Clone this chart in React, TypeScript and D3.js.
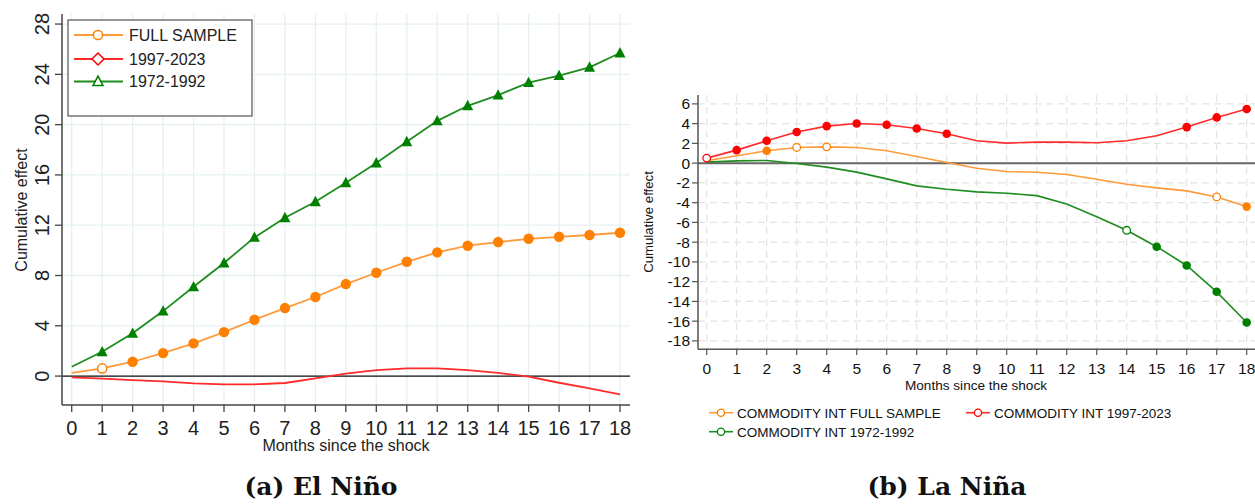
import React from "react";
import * as d3 from "d3";

const months = [0, 1, 2, 3, 4, 5, 6, 7, 8, 9, 10, 11, 12, 13, 14, 15, 16, 17, 18];

// El Niño (panel a)
const elNinoFull = [0.26, 0.61, 1.14, 1.83, 2.6, 3.5, 4.48, 5.41, 6.29, 7.32, 8.22, 9.09, 9.84, 10.37, 10.66, 10.92, 11.08, 11.22, 11.4];
const elNino9723 = [-0.1, -0.2, -0.32, -0.42, -0.58, -0.66, -0.66, -0.55, -0.18, 0.2, 0.47, 0.62, 0.62, 0.47, 0.26, -0.05, -0.53, -0.98, -1.46];
const elNino7292 = [0.74, 1.93, 3.4, 5.17, 7.1, 9.0, 11.03, 12.6, 13.87, 15.38, 16.95, 18.64, 20.3, 21.5, 22.35, 23.34, 23.9, 24.56, 25.7];
// marker kinds: n = none, o = open, f = filled
const elNinoFullMk = "nofffffffffffffffff";
const elNino7292Mk = "nffffffffffffffffff";
const elNinoYTicks = [0, 4, 8, 12, 16, 20, 24, 28];
const elNinoLegend = ["FULL SAMPLE", "1997-2023", "1972-1992"];

// La Niña (panel b)
const laNinaFull = [0.25, 0.74, 1.25, 1.59, 1.65, 1.59, 1.25, 0.68, 0.06, -0.51, -0.85, -0.92, -1.15, -1.63, -2.13, -2.5, -2.81, -3.42, -4.4];
const laNina9723 = [0.51, 1.32, 2.26, 3.15, 3.75, 4.02, 3.89, 3.51, 2.97, 2.26, 2.03, 2.13, 2.13, 2.06, 2.26, 2.77, 3.65, 4.63, 5.48];
const laNina7292 = [0.1, 0.23, 0.27, -0.03, -0.4, -0.91, -1.59, -2.3, -2.65, -2.91, -3.05, -3.29, -4.13, -5.42, -6.8, -8.46, -10.36, -13.03, -16.14];
const laNinaFullMk = "nnfoonnnnnnnnnnnnof";
const laNina9723Mk = "offffffffnnnnnnnfff";
const laNina7292Mk = "nnnnnnnnnnnnnnoffff";
const laNinaYTicks = [6, 4, 2, 0, -2, -4, -6, -8, -10, -12, -14, -16, -18];
const laNinaLegend = ["COMMODITY INT FULL SAMPLE", "COMMODITY INT 1997-2023", "COMMODITY INT 1972-1992"];

const FONT = "'Liberation Sans', Arial, Helvetica, sans-serif";

const C_OR_LINE = "#ff9a3a";
const C_OR = "#ff8000";
const C_RED_LINE = "#ff2a2a";
const C_RED = "#ff0000";
const C_GR_LINE = "#1f8c1f";
const C_GR = "#008000";

function tri(cx: number, cy: number, s: number) {
  const h = s * 0.9;
  return `M${cx},${cy - h * 0.6}L${cx + s / 2},${cy + h * 0.45}L${cx - s / 2},${cy + h * 0.45}Z`;
}

function PanelA() {
  const x = d3.scaleLinear().domain([0, 18]).range([71.7, 620]);
  const y = d3.scaleLinear().domain([-2.3, 28.8]).range([405, 14]);
  const line = (vals: number[]) =>
    d3.line<number>().x((_, i) => x(months[i])).y((d) => y(d))(vals) || "";
  const gridC = "#e6eff2";
  return (
    <g>
      {months.map((m) => (
        <line key={"gv" + m} x1={x(m)} x2={x(m)} y1={14} y2={405} stroke={gridC} strokeWidth={1.3} />
      ))}
      {elNinoYTicks.map((t) => (
        <line key={"gh" + t} x1={62} x2={630} y1={y(t)} y2={y(t)} stroke={gridC} strokeWidth={1.3} />
      ))}
      <line x1={62} x2={630} y1={y(0)} y2={y(0)} stroke="#111" strokeWidth={1.3} />
      <path d={line(elNino7292)} fill="none" stroke={C_GR_LINE} strokeWidth={1.8} />
      <path d={line(elNinoFull)} fill="none" stroke={C_OR_LINE} strokeWidth={1.8} />
      <path d={line(elNino9723)} fill="none" stroke={C_RED_LINE} strokeWidth={1.8} />
      {elNino7292.map((v, i) =>
        elNino7292Mk[i] === "f" ? <path key={"gt" + i} d={tri(x(months[i]), y(v), 11)} fill={C_GR} /> : null
      )}
      {elNinoFull.map((v, i) =>
        elNinoFullMk[i] === "f" ? (
          <circle key={"oc" + i} cx={x(months[i])} cy={y(v)} r={5.2} fill={C_OR} />
        ) : elNinoFullMk[i] === "o" ? (
          <circle key={"oc" + i} cx={x(months[i])} cy={y(v)} r={4.6} fill="#fff" stroke={C_OR} strokeWidth={1.5} />
        ) : null
      )}
      <line x1={62} x2={62} y1={14} y2={405} stroke="#444" strokeWidth={1.5} />
      <line x1={62} x2={630} y1={405} y2={405} stroke="#444" strokeWidth={1.5} />
      {elNinoYTicks.map((t) => (
        <g key={"yt" + t}>
          <line x1={55} x2={62} y1={y(t)} y2={y(t)} stroke="#444" strokeWidth={1.3} />
          <text
            x={42}
            y={y(t)}
            transform={`rotate(-90, 42, ${y(t)})`}
            textAnchor="middle"
            dy="0.36em"
            fontSize={20}
            fontFamily={FONT}
            fill="#222"
          >
            {t}
          </text>
        </g>
      ))}
      {months.map((m) => (
        <g key={"xt" + m}>
          <line x1={x(m)} x2={x(m)} y1={405} y2={412} stroke="#444" strokeWidth={1.3} />
          <text x={x(m)} y={435} textAnchor="middle" fontSize={20} fontFamily={FONT} fill="#222">
            {m}
          </text>
        </g>
      ))}
      <text x={346} y={451} textAnchor="middle" fontSize={16} fontFamily={FONT} fill="#222">
        Months since the shock
      </text>
      <text
        x={21}
        y={210}
        transform="rotate(-90, 21, 210)"
        textAnchor="middle"
        dy="0.35em"
        fontSize={16}
        fontFamily={FONT}
        fill="#222"
      >
        Cumulative effect
      </text>
      <rect x={68} y={20} width={184} height={96} fill="#fff" stroke="#333" strokeWidth={1} />
      {[0, 1, 2].map((i) => {
        const cy = [35, 59, 81.5][i];
        const col = [C_OR_LINE, C_RED_LINE, C_GR_LINE][i];
        const mcol = [C_OR, C_RED, C_GR][i];
        return (
          <g key={"lg" + i}>
            <line x1={74} x2={123} y1={cy} y2={cy} stroke={col} strokeWidth={1.8} />
            {i === 0 && <circle cx={98} cy={cy} r={4.6} fill="#fff" stroke={mcol} strokeWidth={1.5} />}
            {i === 1 && (
              <path d={`M98,${cy - 6}L104,${cy}L98,${cy + 6}L92,${cy}Z`} fill="#fff" stroke={mcol} strokeWidth={1.5} />
            )}
            {i === 2 && <path d={tri(98, cy, 10)} fill="#fff" stroke={mcol} strokeWidth={1.5} />}
            <text x={129} y={cy} dy="0.36em" fontSize={16} fontFamily={FONT} fill="#222">
              {elNinoLegend[i]}
            </text>
          </g>
        );
      })}
    </g>
  );
}

function PanelB() {
  const x = d3.scaleLinear().domain([0, 18]).range([706.7, 1246.7]);
  const y = d3.scaleLinear().domain([-18.85, 6.9]).range([349.3, 95]);
  const line = (vals: number[]) =>
    d3.line<number>().x((_, i) => x(months[i])).y((d) => y(d))(vals) || "";
  const gridC = "#e3e3e3";
  const marks = (vals: number[], mk: string, col: string, key: string) =>
    vals.map((v, i) =>
      mk[i] === "f" ? (
        <circle key={key + i} cx={x(months[i])} cy={y(v)} r={4.3} fill={col} />
      ) : mk[i] === "o" ? (
        <circle key={key + i} cx={x(months[i])} cy={y(v)} r={3.8} fill="#fff" stroke={col} strokeWidth={1.3} />
      ) : null
    );
  return (
    <g>
      {months.map((m) => (
        <line key={"gv" + m} x1={x(m)} x2={x(m)} y1={95} y2={349} stroke={gridC} strokeWidth={1.2} strokeDasharray="7,5" />
      ))}
      {laNinaYTicks.map((t) => (
        <line key={"gh" + t} x1={698} x2={1255} y1={y(t)} y2={y(t)} stroke={gridC} strokeWidth={1.2} strokeDasharray="7,5" />
      ))}
      <line x1={698} x2={1255} y1={y(0)} y2={y(0)} stroke="#666" strokeWidth={2} />
      <path d={line(laNina7292)} fill="none" stroke={C_GR_LINE} strokeWidth={1.6} />
      <path d={line(laNinaFull)} fill="none" stroke={C_OR_LINE} strokeWidth={1.6} />
      <path d={line(laNina9723)} fill="none" stroke={C_RED_LINE} strokeWidth={1.6} />
      {marks(laNina7292, laNina7292Mk, C_GR, "g")}
      {marks(laNinaFull, laNinaFullMk, C_OR, "o")}
      {marks(laNina9723, laNina9723Mk, C_RED, "r")}
      <line x1={698} x2={698} y1={95} y2={349.3} stroke="#555" strokeWidth={1.5} />
      <line x1={698} x2={1255} y1={349.3} y2={349.3} stroke="#555" strokeWidth={1.5} />
      {laNinaYTicks.map((t) => (
        <g key={"yt" + t}>
          <line x1={692} x2={698} y1={y(t)} y2={y(t)} stroke="#555" strokeWidth={1.2} />
          <text x={690} y={y(t)} dy="0.36em" textAnchor="end" fontSize={15.5} fontFamily={FONT} fill="#111">
            {t}
          </text>
        </g>
      ))}
      {months.map((m) => (
        <g key={"xt" + m}>
          <line x1={x(m)} x2={x(m)} y1={349.3} y2={355} stroke="#555" strokeWidth={1.2} />
          <text x={x(m)} y={373.5} textAnchor="middle" fontSize={15.5} fontFamily={FONT} fill="#111">
            {m}
          </text>
        </g>
      ))}
      <text x={976} y={390} textAnchor="middle" fontSize={13.6} fontFamily={FONT} fill="#111">
        Months since the shock
      </text>
      <text
        x={648}
        y={222}
        transform="rotate(-90, 648, 222)"
        textAnchor="middle"
        dy="0.35em"
        fontSize={13.2}
        fontFamily={FONT}
        fill="#111"
      >
        Cumulative effect
      </text>
      {[
        { lx: 709, cy: 412.7, col: C_OR_LINE, mcol: C_OR, label: laNinaLegend[0] },
        { lx: 966, cy: 412.7, col: C_RED_LINE, mcol: C_RED, label: laNinaLegend[1] },
        { lx: 709, cy: 431.7, col: C_GR_LINE, mcol: C_GR, label: laNinaLegend[2] },
      ].map((e, i) => (
        <g key={"lg" + i}>
          <line x1={e.lx} x2={e.lx + 24} y1={e.cy} y2={e.cy} stroke={e.col} strokeWidth={1.6} />
          <circle cx={e.lx + 12} cy={e.cy} r={3.6} fill="#fff" stroke={e.mcol} strokeWidth={1.3} />
          <text x={e.lx + 28} y={e.cy} dy="0.36em" fontSize={13.5} fontFamily={FONT} fill="#111">
            {e.label}
          </text>
        </g>
      ))}
    </g>
  );
}

export default function App() {
  const capFont = "'DejaVu Serif', 'Liberation Serif', serif";
  return (
    <svg
      width={1255}
      height={504}
      viewBox="0 0 1255 504"
      style={{ position: "absolute", left: 0, top: 0, background: "#fff" }}
    >
      <rect x={0} y={0} width={1255} height={504} fill="#fff" />
      <PanelA />
      <PanelB />
      <text x={321} y={495} textAnchor="middle" fontSize={25} fontWeight="bold" fontFamily={capFont} fill="#111">
        (a) El Niño
      </text>
      <text x={947} y={495} textAnchor="middle" fontSize={25} fontWeight="bold" fontFamily={capFont} fill="#111">
        (b) La Niña
      </text>
    </svg>
  );
}
